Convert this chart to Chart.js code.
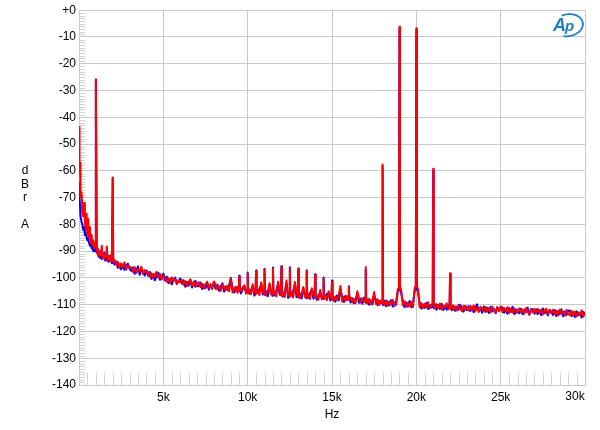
<!DOCTYPE html>
<html>
<head>
<meta charset="utf-8">
<script src="https://cdn.jsdelivr.net/npm/chart.js@4.4.1/dist/chart.umd.min.js"></script>
<style>
  html, body { margin: 0; padding: 0; background: #fff; }
  #wrap { width: 600px; height: 430px; }
</style>
</head>
<body>
<div id="wrap"><canvas id="chart" width="600" height="430"></canvas></div>
<script>
// FFT spectrum, two channels, dBr A vs Hz

const freqHz = [
  0, 20, 40, 60, 80, 100, 150, 200, 250, 300, 350, 400, 450, 500, 550, 600, 650, 700, 750, 800, 850, 900, 950, 1000,
  1050, 1100, 1150, 1200, 1250, 1300, 1350, 1400, 1450, 1500, 1550, 1600, 1650, 1700, 1750, 1800, 1850, 1900, 1950, 2000,
  2030, 2100, 2200, 2300, 2400, 2500, 2600, 2700, 2800, 2900, 3000,
  3100, 3200, 3300, 3400, 3500, 3600, 3700, 3800, 3900, 4000,
  4100, 4200, 4300, 4400, 4500, 4600, 4700, 4800, 4900, 5000,
  5100, 5200, 5300, 5400, 5500, 5600, 5700, 5800, 5900, 6000,
  6100, 6200, 6300, 6400, 6500, 6600, 6700, 6800, 6900, 7000,
  7100, 7200, 7300, 7400, 7500, 7600, 7700, 7800, 7900, 8000,
  8100, 8200, 8300, 8400, 8500, 8600, 8700, 8800, 8900, 9000,
  9100, 9200, 9300, 9400, 9470, 9500, 9530, 9600, 9700, 9800, 9900, 9970, 10000,
  10030, 10100, 10200, 10300, 10400, 10470, 10500, 10530, 10600, 10700, 10800, 10900, 10970, 11000,
  11030, 11100, 11200, 11300, 11400, 11470, 11500, 11530, 11600, 11700, 11800, 11900, 11970, 12000,
  12030, 12100, 12200, 12300, 12400, 12470, 12500, 12530, 12600, 12700, 12800, 12900, 12970, 13000,
  13030, 13100, 13200, 13300, 13400, 13470, 13500, 13530, 13600, 13700, 13800, 13900, 13970, 14000,
  14030, 14100, 14200, 14300, 14400, 14470, 14500, 14530, 14600, 14700, 14800, 14900, 14970, 15000,
  15030, 15100, 15200, 15300, 15400, 15500, 15600, 15700, 15800, 15900, 15970, 16000,
  16030, 16100, 16200, 16300, 16400, 16500, 16600, 16700, 16800, 16900, 16970, 17000,
  17030, 17100, 17200, 17300, 17400, 17500, 17600, 17700, 17800, 17900, 17970, 18000,
  18030, 18100, 18200, 18300, 18400, 18500, 18600, 18700, 18800, 18900, 18970, 19000,
  19030, 19100, 19200, 19300, 19400, 19500, 19600, 19700, 19800, 19900, 19970, 20000,
  20030, 20100, 20200, 20300, 20400, 20500, 20600, 20700, 20800, 20900, 20970, 21000,
  21030, 21100, 21200, 21300, 21400, 21500, 21600, 21700, 21800, 21900, 21970, 22000,
  22030, 22100, 22200, 22300, 22400, 22500, 22600, 22700, 22800, 22900, 23000,
  23100, 23200, 23300, 23400, 23500, 23600, 23700, 23800, 23900, 24000,
  24100, 24200, 24300, 24400, 24500, 24600, 24700, 24800, 24900, 25000,
  25100, 25200, 25300, 25400, 25500, 25600, 25700, 25800, 25900, 26000,
  26100, 26200, 26300, 26400, 26500, 26600, 26700, 26800, 26900, 27000,
  27100, 27200, 27300, 27400, 27500, 27600, 27700, 27800, 27900, 28000,
  28100, 28200, 28300, 28400, 28500, 28600, 28700, 28800, 28900, 29000,
  29100, 29200, 29300, 29400, 29500, 29600, 29700, 29800, 29900, 30000
];

// red trace (drawn on top)
const redDb = [
  -43.6, -52.0, -61.0, -57.0, -66.0, -70.0, -68.0, -74.0, -77.0, -72.0, -79.0, -82.0, -76.0, -84.0, -78.0, -85.0, -81.0, -87.0, -84.0, -88.0, -86.0, -89.0, -87.0, -25.8,
  -88.5, -91.0, -89.5, -92.0, -90.0, -91.5, -88.0, -92.5, -91.0, -93.0, -91.5, -92.0, -88.3, -93.5, -92.0, -93.0, -91.5, -94.0, -92.5, -62.7,
  -93.8, -93.2, -95.1, -94.0, -96.3, -94.6, -95.8, -94.2, -96.9, -95.3, -96.1,
  -96.0, -97.8, -95.9, -98.2, -96.7, -97.5, -95.8, -98.6, -97.1, -98.0,
  -97.9, -99.6, -98.3, -100.2, -98.8, -97.7, -99.9, -98.5, -100.6, -99.3,
  -99.6, -101.4, -100.1, -102.0, -99.8, -101.2, -100.5, -102.3, -100.9, -101.6,
  -100.7, -102.5, -101.2, -103.1, -101.6, -100.5, -102.8, -101.4, -103.4, -102.0,
  -101.6, -103.4, -102.1, -104.0, -102.5, -101.4, -103.7, -102.3, -104.2, -101.3,
  -102.6, -104.3, -103.0, -104.9, -102.3, -103.5, -104.6, -102.9, -105.0, -100.3,
  -105.4, -103.9, -103.3, -105.6, -104.6, -99.7, -104.9, -104.8, -103.6, -102.8, -105.9, -104.7, -98.3,
  -105.6, -104.3, -106.1, -102.4, -105.7, -104.8, -97.5, -105.9, -104.6, -106.4, -101.7, -105.0, -106.0, -96.9,
  -105.2, -106.6, -104.8, -102.0, -106.2, -105.4, -96.6, -106.3, -105.1, -106.9, -101.4, -104.9, -106.5, -96.0,
  -106.8, -105.3, -107.1, -101.0, -106.6, -105.9, -96.4, -107.0, -105.5, -107.3, -101.5, -105.8, -107.1, -96.8,
  -106.2, -107.6, -105.9, -103.4, -107.2, -106.1, -97.5, -107.4, -106.0, -107.9, -103.9, -106.3, -107.5, -98.9,
  -107.0, -106.4, -108.1, -104.5, -107.7, -106.6, -100.1, -108.0, -106.5, -108.3, -105.0, -106.9, -107.8, -101.4,
  -106.9, -108.6, -106.9, -108.2, -106.5, -103.0, -108.8, -107.0, -108.5, -106.8, -108.2, -103.6,
  -108.0, -107.3, -109.1, -107.8, -109.4, -105.0, -107.5, -109.2, -107.6, -108.9, -107.9, -95.9,
  -108.5, -109.6, -107.8, -109.9, -108.3, -105.3, -109.7, -108.0, -110.1, -108.5, -109.4, -57.6,
  -109.3, -110.1, -108.4, -110.4, -108.9, -109.8, -108.2, -110.5, -109.0, -104.3, -103.5, -6.2,
  -103.2, -104.5, -110.2, -108.7, -110.8, -109.3, -110.6, -108.9, -110.9, -104.0, -102.8, -6.7,
  -103.0, -104.2, -111.0, -109.4, -111.3, -109.7, -110.9, -109.1, -111.4, -110.0, -109.6, -59.2,
  -110.4, -111.5, -109.8, -111.2, -109.6, -111.8, -110.3, -111.0, -109.5, -111.7, -110.6, -98.3,
  -111.3, -110.2, -111.9, -110.6, -112.2, -110.0, -111.6, -112.4, -110.4, -111.8, -110.7,
  -112.2, -110.5, -111.9, -110.3, -112.5, -111.0, -112.7, -110.8, -111.6, -112.3,
  -110.9, -112.6, -111.3, -112.9, -110.7, -112.1, -113.0, -111.0, -112.4, -110.6,
  -112.8, -111.2, -112.5, -110.9, -113.1, -111.6, -112.9, -111.3, -113.3, -112.0,
  -111.4, -113.0, -111.8, -113.4, -111.2, -112.8, -113.6, -111.5, -112.9, -111.7,
  -113.3, -111.6, -113.0, -111.9, -113.7, -112.2, -111.5, -113.5, -112.0, -113.1,
  -111.9, -113.6, -112.3, -114.0, -111.8, -113.2, -112.5, -114.1, -112.0, -113.4,
  -113.9, -112.2, -114.1, -112.6, -114.4, -112.9, -113.7, -112.1, -114.5, -113.2
];

// blue trace (underneath)
const blueDb = [
  -64.5, -66.0, -70.0, -73.0, -75.0, -77.0, -79.0, -80.0, -82.0, -81.0, -84.0, -83.0, -85.0, -86.0, -85.0, -87.0, -88.0, -87.0, -89.0, -88.0, -90.0, -89.0, -90.0, -26.0,
  -90.5, -89.0, -92.0, -90.5, -92.5, -90.0, -93.0, -91.0, -92.0, -90.5, -93.5, -92.0, -93.0, -91.5, -94.0, -92.5, -93.5, -92.0, -94.5, -62.5,
  -94.0, -95.0, -93.8, -96.2, -94.9, -96.8, -95.1, -97.0, -95.4, -94.7, -96.6,
  -97.4, -96.1, -98.5, -97.0, -95.7, -98.8, -96.9, -97.6, -99.1, -97.2,
  -99.2, -97.8, -100.4, -98.6, -100.9, -99.0, -98.1, -100.7, -99.5, -98.4,
  -101.0, -99.5, -101.9, -100.4, -102.4, -100.8, -99.9, -102.1, -101.3, -100.2,
  -102.2, -100.9, -103.3, -101.5, -102.9, -100.8, -103.6, -102.0, -101.1, -103.0,
  -103.1, -101.7, -104.1, -102.6, -103.8, -101.9, -104.4, -102.8, -103.3, -101.6,
  -104.0, -102.5, -104.8, -103.4, -102.0, -105.1, -103.2, -104.5, -102.8, -100.0,
  -103.8, -105.5, -104.2, -103.5, -104.9, -99.2, -104.3, -105.8, -104.4, -103.0, -104.9, -105.2, -98.0,
  -104.6, -105.9, -104.5, -103.0, -106.6, -105.5, -97.2, -104.8, -105.3, -104.0, -102.5, -106.2, -105.1, -96.6,
  -106.4, -105.0, -106.8, -103.1, -105.4, -106.7, -96.1, -105.2, -106.5, -104.6, -102.4, -106.3, -105.4, -95.6,
  -105.7, -107.0, -105.4, -102.2, -107.5, -106.4, -96.0, -105.8, -106.1, -104.9, -102.6, -107.2, -105.9, -96.5,
  -107.3, -105.8, -107.7, -104.0, -106.2, -107.6, -97.1, -106.0, -107.4, -105.6, -104.5, -107.8, -106.3, -98.6,
  -106.3, -108.2, -106.6, -105.3, -108.0, -107.1, -99.8, -106.7, -107.3, -105.9, -105.8, -108.4, -106.8, -101.0,
  -108.1, -107.1, -108.9, -106.6, -108.4, -104.1, -107.2, -109.0, -106.7, -108.3, -107.0, -103.1,
  -107.2, -109.2, -107.6, -109.5, -107.9, -106.0, -109.3, -107.7, -109.6, -107.4, -109.0, -97.0,
  -109.4, -108.1, -110.0, -108.4, -109.8, -106.6, -108.2, -110.2, -108.6, -109.5, -108.3, -58.5,
  -110.2, -108.5, -110.6, -108.8, -110.3, -108.3, -110.7, -109.1, -110.0, -105.2, -104.4, -7.0,
  -104.0, -105.6, -108.8, -110.9, -109.2, -110.7, -108.6, -111.0, -109.5, -105.0, -103.9, -7.5,
  -104.1, -105.3, -109.5, -111.5, -109.9, -111.2, -109.3, -111.6, -110.1, -111.0, -110.8, -60.0,
  -111.2, -109.9, -111.9, -110.1, -111.6, -109.7, -112.0, -110.5, -111.9, -110.2, -111.4, -98.6,
  -110.5, -112.1, -110.4, -112.3, -110.8, -111.9, -110.1, -111.3, -112.6, -110.5, -112.0,
  -110.6, -112.4, -110.9, -112.8, -111.1, -109.9, -112.5, -111.4, -113.0, -110.7,
  -112.7, -111.1, -113.1, -110.8, -112.5, -111.5, -113.2, -110.9, -112.2, -111.4,
  -111.0, -113.0, -111.6, -113.4, -111.2, -112.7, -110.8, -113.5, -111.8, -112.6,
  -113.2, -111.5, -113.6, -111.9, -112.7, -111.1, -113.8, -112.1, -111.6, -113.3,
  -111.7, -113.5, -112.1, -113.9, -111.4, -113.2, -112.4, -114.0, -111.9, -112.8,
  -113.8, -112.0, -114.2, -112.4, -113.6, -111.7, -114.3, -112.6, -113.9, -112.2,
  -112.3, -114.3, -112.8, -114.6, -112.5, -114.0, -113.1, -114.8, -112.7, -113.6
];

const yTitleLines = ['d', 'B', 'r', '', 'A'];
const xTitle = 'Hz';
const lastXLabel = '30k';

const FONT = '"Liberation Sans", Arial, sans-serif';
const GRID = '#c9c9c9';

if (redDb.length !== freqHz.length || blueDb.length !== freqHz.length) {
  console.error('length mismatch', freqHz.length, redDb.length, blueDb.length);
}

function pts(vals) {
  return freqHz.map((f, i) => ({ x: f, y: vals[i] }));
}

// minor ticks, y title, last x label and the Ap logo
const extras = {
  id: 'extras',
  beforeDatasetsDraw(chart) {
    const { ctx, chartArea: a, scales: { x, y } } = chart;
    ctx.save();
    ctx.strokeStyle = '#d2d2d2';
    ctx.lineWidth = 1;
    ctx.beginPath();
    for (let v = -140; v <= 0; v += 1) {
      if (v % 10 === 0) continue;
      const py = Math.round(y.getPixelForValue(v)) + 0.5;
      ctx.moveTo(a.left, py);
      ctx.lineTo(a.left + 6, py);
    }
    for (let f = 500; f < 30000; f += 500) {
      if (f % 5000 === 0) continue;
      const px = Math.round(x.getPixelForValue(f)) + 0.5;
      ctx.moveTo(px, a.bottom);
      ctx.lineTo(px, a.bottom - 12);
    }
    ctx.stroke();
    ctx.restore();
  },
  afterDraw(chart) {
    const { ctx, chartArea: a } = chart;
    ctx.save();
    ctx.fillStyle = '#000';
    ctx.font = '12px ' + FONT;
    ctx.textAlign = 'center';
    ctx.textBaseline = 'middle';
    yTitleLines.forEach((t, i) => ctx.fillText(t, 25, 171 + i * 13.5));
    ctx.fillText(lastXLabel, a.right - 10, a.bottom + 12);

    // Ap logo
    ctx.strokeStyle = '#1f7fc4';
    ctx.fillStyle = '#1f7fc4';
    ctx.lineWidth = 1.8;
    ctx.beginPath();
    ctx.ellipse(a.right - 17, a.top + 15, 15, 11, -0.15, -1.9, 2.0);
    ctx.stroke();
    ctx.font = 'italic bold 18px ' + FONT;
    ctx.textAlign = 'left';
    ctx.textBaseline = 'alphabetic';
    ctx.fillText('A', a.right - 32, a.top + 21);
    ctx.font = 'italic bold 15px ' + FONT;
    ctx.fillText('p', a.right - 20, a.top + 21);
    ctx.restore();
  }
};

new Chart(document.getElementById('chart'), {
  type: 'line',
  data: {
    datasets: [
      {
        label: 'Ch B',
        data: pts(blueDb),
        borderColor: '#0000ff',
        borderWidth: 2,
        borderJoinStyle: 'round',
        pointRadius: 0,
        tension: 0,
        order: 2
      },
      {
        label: 'Ch A',
        data: pts(redDb),
        borderColor: '#ff0000',
        borderWidth: 2,
        borderJoinStyle: 'round',
        pointRadius: 0,
        tension: 0,
        order: 1
      }
    ]
  },
  options: {
    responsive: false,
    animation: false,
    devicePixelRatio: 1,
    layout: { padding: { top: 10, right: 15, left: 0, bottom: 0 } },
    plugins: { legend: { display: false }, tooltip: { enabled: false } },
    scales: {
      x: {
        type: 'linear',
        min: 0,
        max: 30000,
        afterFit: s => { s.height = 45; },
        ticks: {
          stepSize: 5000,
          autoSkip: false,
          maxRotation: 0,
          padding: 5,
          color: '#000',
          font: { family: FONT, size: 12 },
          callback: v => (v === 0 || v === 30000) ? '' : (v / 1000) + 'k'
        },
        grid: { color: GRID, drawTicks: false },
        border: { color: GRID },
        title: {
          display: true,
          text: xTitle,
          color: '#000',
          font: { family: FONT, size: 12 },
          padding: { top: 0, bottom: 8 }
        }
      },
      y: {
        min: -140,
        max: 0,
        afterFit: s => { s.width = 79; },
        ticks: {
          stepSize: 10,
          padding: 3,
          color: '#000',
          font: { family: FONT, size: 12 },
          callback: v => v === 0 ? '+0' : v
        },
        grid: { color: GRID, drawTicks: false },
        border: { color: GRID }
      }
    }
  },
  plugins: [extras]
});
</script>
</body>
</html>
